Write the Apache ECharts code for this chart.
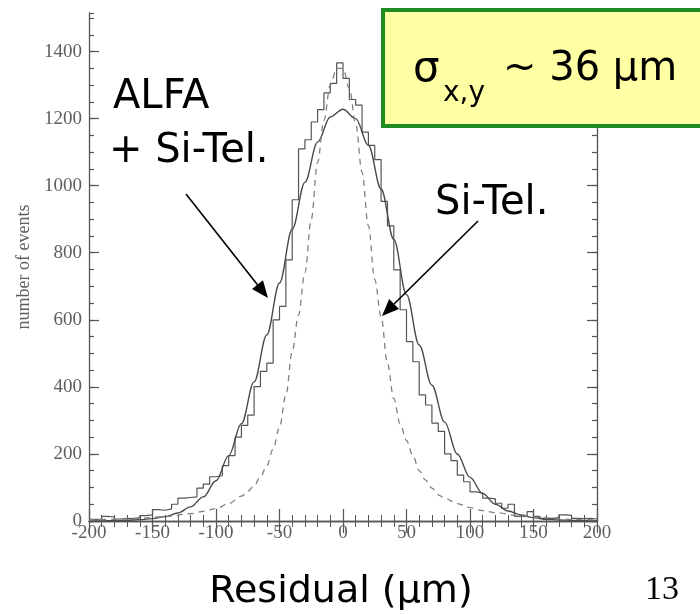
<!DOCTYPE html>
<html>
<head>
<meta charset="utf-8">
<script src="https://cdn.jsdelivr.net/npm/echarts@6/dist/echarts.min.js"></script>
<style>
  html, body { margin: 0; padding: 0; background: #ffffff; }
  #chart { width: 700px; height: 614px; }
</style>
</head>
<body>
<div id="chart"></div>
<script>
// Residual histogram: 5 um bins from -200 to 200
const binStart = -200;
const binWidth = 5;
const histCounts = [
  5, 6, 14, 12, 6, 8, 7, 10, 16, 18,
  34, 32, 36, 50, 68, 70, 72, 98, 110, 132,
  135, 165, 195, 250, 285, 316, 401, 446, 471, 600,
  640, 779, 958, 1110, 1137, 1190, 1227, 1277, 1305, 1366,
  1320, 1257, 1240, 1160, 1120, 1078, 953, 880, 749, 630,
  535, 475, 376, 346, 292, 267, 200, 180, 137, 117,
  87, 83, 68, 66, 53, 38, 50, 14, 13, 28,
  14, 8, 8, 10, 18, 17, 8, 7, 8, 6
];

// Gaussian fit, ALFA + Si-Tel. (solid)
const fitX = [-200, -190, -180, -170, -160, -150, -140, -130, -120, -110,
              -100, -90, -80, -70, -60, -50, -40, -30, -20, -10,
              0, 10, 20, 30, 40, 50, 60, 70, 80, 90,
              100, 110, 120, 130, 140, 150, 160, 170, 180, 190, 200];
const fitY = [0.3, 0.5, 1, 2, 4, 7, 13, 24, 42, 72,
              120, 195, 290, 415, 555, 710, 870, 1010, 1130, 1205,
              1228, 1200, 1120, 990, 840, 675, 525, 405, 295, 200,
              130, 82, 50, 30, 18, 10, 5, 3, 2, 1, 0.5];

// Si-Tel. alone (dashed)
const siTelX = [-200, -180, -160, -140, -120, -110, -100, -90, -80, -75,
                -70, -65, -60, -55, -50, -45, -40, -35, -30, -25,
                -20, -15, -10, -5, 0, 5, 10, 15, 20, 25,
                30, 35, 40, 45, 50, 55, 60, 65, 70, 75,
                80, 90, 100, 110, 120, 140, 160, 180, 200];
const siTelY = [3, 5, 8, 13, 22, 29, 37, 52, 74, 88,
                105, 132, 165, 215, 280, 375, 505, 615, 740, 900,
                1070, 1195, 1300, 1350, 1350, 1290, 1185, 1040, 880, 720,
                610, 470, 365, 290, 240, 195, 150, 122, 98, 78,
                68, 52, 40, 31, 25, 15, 9, 5, 3];

const xRange = [-200, 200];
const yRange = [0, 1515];

// histogram outline as step points on bin edges
const histData = histCounts.map((c, i) => [binStart + i * binWidth, c]);
histData.push([binStart + histCounts.length * binWidth, histCounts[histCounts.length - 1]]);

const zip = (xs, ys) => xs.map((x, i) => [x, ys[i]]);

const axisColor = '#555555';
const labelStyle = { fontFamily: 'Liberation Serif', fontSize: 19, color: '#5e5e5e', formatter: v => String(v) };

function xAxisDef(pos, showLabel) {
  return {
    type: 'value', position: pos, min: xRange[0], max: xRange[1], interval: 50,
    axisLine: { show: true, lineStyle: { color: axisColor, width: 1.3 } },
    axisTick: { show: true, inside: true, length: 12, lineStyle: { color: axisColor, width: 1.2 } },
    minorTick: { show: true, splitNumber: 5, length: 6, lineStyle: { color: axisColor, width: 1 } },
    axisLabel: Object.assign({ show: showLabel, margin: 3 }, labelStyle),
    splitLine: { show: false }, minorSplitLine: { show: false }
  };
}
function yAxisDef(pos, interval, tickLen, showLabel, showLine) {
  return {
    type: 'value', position: pos, min: yRange[0], max: yRange[1], interval: interval,
    axisLine: { show: showLine, onZero: false, lineStyle: { color: axisColor, width: 1.3 } },
    axisTick: { show: true, inside: true, length: tickLen, lineStyle: { color: axisColor, width: 1.2 } },
    axisLabel: Object.assign({ show: showLabel, margin: 7, showMaxLabel: false }, labelStyle),
    splitLine: { show: false }
  };
}

const yLeft = yAxisDef('left', 200, 10, true, true);
yLeft.name = 'number of events';
yLeft.nameLocation = 'middle';
yLeft.nameRotate = 90;
yLeft.nameGap = 48;
yLeft.nameTextStyle = { fontFamily: 'Liberation Serif', fontSize: 18, color: '#5e5e5e' };

const chart = echarts.init(document.getElementById('chart'), null, { renderer: 'canvas' });

// annotation arrows
function arrow(x1, y1, x2, y2) {
  const a = Math.atan2(y2 - y1, x2 - x1);
  const L = 17, W = 7;
  const bx = x2 - L * Math.cos(a), by = y2 - L * Math.sin(a);
  const nx = -Math.sin(a), ny = Math.cos(a);
  return [
    { type: 'line', z: 20, shape: { x1: x1, y1: y1, x2: bx, y2: by },
      style: { stroke: '#000', lineWidth: 1.6 } },
    { type: 'polygon', z: 20,
      shape: { points: [[x2, y2], [bx + nx * W, by + ny * W], [bx - nx * W, by - ny * W]] },
      style: { fill: '#000' } }
  ];
}

const handFont = 'DejaVu Sans';

chart.setOption({
  animation: false,
  grid: { left: 89, right: 103, top: 13, bottom: 93, containLabel: false },
  xAxis: [xAxisDef('bottom', true), xAxisDef('top', false)],
  yAxis: [
    yLeft,
    yAxisDef('left', 50, 5, false, false),
    yAxisDef('right', 200, 10, false, true),
    yAxisDef('right', 50, 5, false, false)
  ],
  series: [
    {
      type: 'line', name: 'histogram', data: histData, step: 'end',
      showSymbol: false, symbol: 'none',
      lineStyle: { color: '#555555', width: 1.2 }, z: 3
    },
    {
      type: 'line', name: 'ALFA + Si-Tel.', data: zip(fitX, fitY), smooth: 0.35, smoothMonotone: 'x',
      showSymbol: false, symbol: 'none',
      lineStyle: { color: '#4a4a4a', width: 1.4 }, z: 4
    },
    {
      type: 'line', name: 'Si-Tel.', data: zip(siTelX, siTelY), smooth: 0.35, smoothMonotone: 'x',
      showSymbol: false, symbol: 'none',
      lineStyle: { color: '#808080', width: 1.3, type: [6, 5] }, z: 4
    }
  ],
  graphic: [
    { type: 'rect', z: 30, shape: { x: 383, y: 10, width: 330, height: 116 },
      style: { fill: '#ffffa3', stroke: '#1f8c1f', lineWidth: 4 } },
    { type: 'text', z: 31, style: { x: 413, y: 70, text: 'σ', font: '42px "DejaVu Sans"', fill: '#000', textVerticalAlign: 'middle' } },
    { type: 'text', z: 31, style: { x: 443, y: 94, text: 'x,y', font: '28px "DejaVu Sans"', fill: '#000', textVerticalAlign: 'middle' } },
    { type: 'text', z: 31, style: { x: 503, y: 70, text: '~ 36 μm', font: '40px "DejaVu Sans"', fill: '#000', textVerticalAlign: 'middle' } },
    { type: 'text', z: 20, style: { x: 113, y: 98, text: 'ALFA', font: '40px ' + handFont, fill: '#000', textVerticalAlign: 'middle' } },
    { type: 'text', z: 20, style: { x: 109, y: 152, text: '+ Si-Tel.', font: '40px ' + handFont, fill: '#000', textVerticalAlign: 'middle' } },
    { type: 'text', z: 20, style: { x: 435, y: 204, text: 'Si-Tel.', font: '40px ' + handFont, fill: '#000', textVerticalAlign: 'middle' } },
    ...arrow(186, 194, 268, 298),
    ...arrow(478, 221, 382, 316),
    { type: 'text', z: 20, style: { x: 341, y: 592, text: 'Residual (μm)', font: '38px ' + handFont, fill: '#000', textAlign: 'center', textVerticalAlign: 'middle' } },
    { type: 'text', z: 20, style: { x: 662, y: 590, text: '13', font: '34px "Liberation Serif"', fill: '#000', textAlign: 'center', textVerticalAlign: 'middle' } }
  ]
});
</script>
</body>
</html>
